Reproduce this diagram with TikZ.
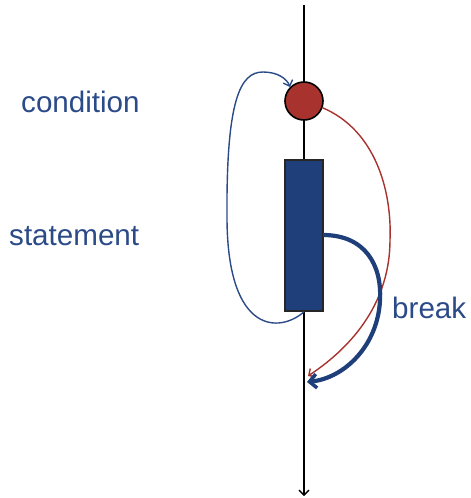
\documentclass[tikz,border=0pt]{standalone}
\usepackage{fontspec}
\setmainfont{Liberation Sans}
\usetikzlibrary{arrows.meta}
\definecolor{txtblue}{HTML}{2B4A88}
\definecolor{boxblue}{HTML}{1F3F7A}
\definecolor{condred}{HTML}{A8332E}
\tikzset{
  lbl/.style={text=txtblue, font=\fontsize{29.6}{31}\selectfont, inner sep=0pt, anchor=base west},
  axis/.style={line width=1.8pt, black},
  thinblue/.style={line width=1.4pt, draw=txtblue},
  thinred/.style={line width=1.4pt, draw=condred},
  thickblue/.style={line width=4.2pt, draw=boxblue},
}
\begin{document}
\begin{tikzpicture}[x=1pt,y=-1pt]
\useasboundingbox (0,0) rectangle (471,498);
\coordinate (top) at (304,5);
\coordinate (bot) at (304,496);
\draw[axis, -{Straight Barb[length=5pt,width=10pt,line width=1.4pt]}] (top) -- (bot);
\node[circle, minimum size=38pt, inner sep=0pt, fill=condred, draw=black, line width=1.6pt] (cond) at (304,101) {};
\node[rectangle, minimum width=38pt, minimum height=151pt, inner sep=0pt, fill=boxblue, draw=black!85, line width=1.6pt] (stmt) at (304,235.5) {};
\coordinate (bend) at (307,382);
\coordinate (rend) at (308,376);
% loop back
\draw[thinblue, -{Straight Barb[length=5pt,width=10pt]}] (stmt.south) .. controls (280,333) and (228,335) .. (227,220) .. controls (226,100) and (240,72) .. (263,72) .. controls (278,72) and (287,79) .. (cond.north west);
% condition false
\draw[thinred, -{Straight Barb[length=5pt,width=10pt]}] (cond.-20) .. controls (375,130) and (392,190) .. (390,240) .. controls (390,300) and (355,345) .. (rend);
% break
\draw[thickblue, -{Straight Barb[length=7pt,width=14pt,line width=3.5pt]}] (323,235) .. controls (365,235) and (382,265) .. (380,300) .. controls (378,345) and (345,378) .. (bend);
\node[lbl] (lc) at (21,112) {condition};
\node[lbl] (ls) at (9,245) {statement};
\node[lbl] (lb) at (392,318) {break};
\end{tikzpicture}
\end{document}
